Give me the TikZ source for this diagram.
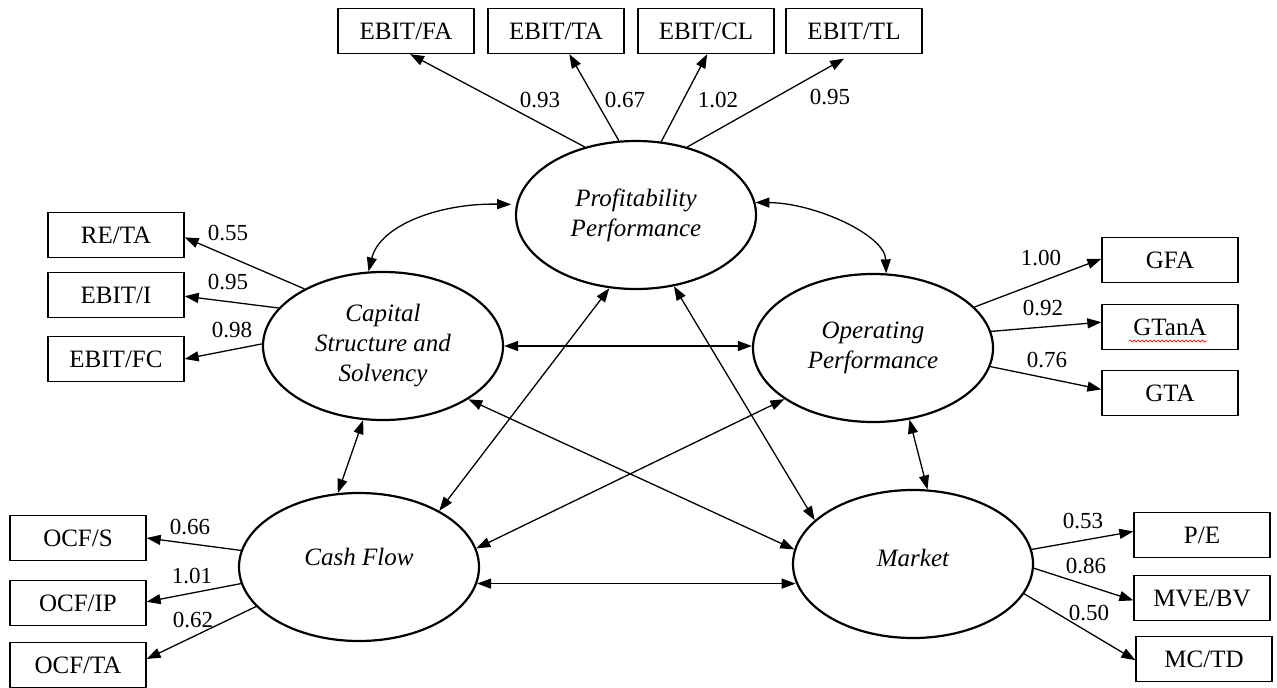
\documentclass[tikz,border=0pt]{standalone}
\usepackage{fontspec}
\setmainfont{Liberation Serif}
\usetikzlibrary{arrows.meta,shapes.geometric,decorations.pathmorphing,calc}
\begin{document}
\begin{tikzpicture}[x=1pt,y=-1pt,
  lat/.style={draw, ellipse, line width=2.2pt, minimum width=240pt, minimum height=148pt,
    inner sep=0pt, align=center, font=\fontsize{25}{30}\selectfont\itshape},
  obs/.style={draw, rectangle, line width=1.3pt, minimum width=136pt, minimum height=45pt,
    inner sep=0pt, font=\fontsize{25}{30}\selectfont},
  num/.style={font=\fontsize{23}{26}\selectfont, inner sep=0pt},
  ld/.style={line width=1.3pt, -{Triangle[length=14pt,width=10pt]}},
  cov/.style={line width=1.3pt, {Triangle[length=14pt,width=10pt]}-{Triangle[length=14pt,width=10pt]}},
]
\useasboundingbox (0,0) rectangle (1277,688);

% latent variables
\node[lat] (prof) at (636,215) {Profitability\\Performance};
\node[lat] (cap) at (383,346) {Capital\\Structure and\\Solvency};
\node[lat] (op) at (873,348) {Operating\\Performance};
\node[lat] (cash) at (359,567) {\raisebox{20pt}{Cash Flow}};
\node[lat] (mkt) at (913,564) {\raisebox{12pt}{Market}};

% observed variables
\node[obs] (fa) at (406,31) {EBIT/FA};
\node[obs] (ta) at (556,31) {EBIT/TA};
\node[obs] (cl) at (706,31) {EBIT/CL};
\node[obs] (tl) at (854,31) {EBIT/TL};
\node[obs] (reta) at (116,235) {RE/TA};
\node[obs] (ebi) at (116,295) {EBIT/I};
\node[obs] (ebfc) at (116,359) {EBIT/FC};
\node[obs] (gfa) at (1170,260) {GFA};
\node[obs] (gtana) at (1170,327) {GTanA};
\node[obs] (gta) at (1170,393) {GTA};
\node[obs] (ocfs) at (78,538) {OCF/S};
\node[obs] (ocfip) at (78,603) {OCF/IP};
\node[obs] (ocfta) at (78,665) {OCF/TA};
\node[obs] (pe) at (1202,535) {P/E};
\node[obs] (mve) at (1202,598) {MVE/BV};
\node[obs] (mctd) at (1204,659) {MC/TD};

% spell-check squiggle under GTanA
\draw[red, line width=0.7pt, decorate, decoration={snake, amplitude=1pt, segment length=4pt}]
  ($(gtana.center)+(-41,14)$) -- ($(gtana.center)+(37,14)$);

% loadings
\draw[ld] (prof.127) -- (fa.-80);
\draw[ld] (prof.103) -- (ta.-60);
\draw[ld] (prof.71) -- (cl.-87);
\draw[ld, shorten >=9pt] (prof.53) -- (tl.-95);
\draw[ld] (cap.144) -- (reta.-2);
\draw[ld] (cap.160) -- (ebi.-1);
\draw[ld] (cap.179) -- (ebfc.0);
\draw[ld] (op.22) -- (gfa.179);
\draw[ld] (op.8) -- (gtana.176);
\draw[ld] (op.-9) -- (gta.177);
\draw[ld] (cash.172) -- (ocfs.0);
\draw[ld] (cash.188) -- (ocfip.1);
\draw[ld] (cash.201) -- (ocfta.5);
\draw[ld] (mkt.7) -- (pe.177);
\draw[ld] (mkt.-2) -- (mve.182);
\draw[ld] (mkt.-15) -- (mctd.181);

% covariances
\draw[cov, shorten >=5pt] (cap.101) .. controls (380,225) and (440,203) .. (prof.175);
\draw[cov] (prof.6) .. controls (815,203) and (885,235) .. (op.80);
\draw[cov] (cap.east) -- (cap.east -| op.west);
\draw[cov] (cap.255) -- (cash.106);
\draw[cov] (prof.250) -- (cash.35);
\draw[cov] (prof.-62) -- (mkt.156);
\draw[cov] (cap.-32) -- (mkt.173);
\draw[cov] (op.210) -- (cash.9);
\draw[cov] (cash.-8) -- (cash.-8 -| mkt.189);
\draw[cov] (op.-63) -- (mkt.79);

% loading values
\node[num] (v1) at (540,100) {0.93};
\node[num] (v2) at (625,100) {0.67};
\node[num] (v3) at (718,100) {1.02};
\node[num] (v4) at (830,97) {0.95};
\node[num] (v5) at (228,233) {0.55};
\node[num] (v6) at (228,282) {0.95};
\node[num] (v7) at (232,330) {0.98};
\node[num] (v8) at (1041,258) {1.00};
\node[num] (v9) at (1043,308) {0.92};
\node[num] (v10) at (1047,360) {0.76};
\node[num] (v11) at (190,527) {0.66};
\node[num] (v12) at (192,576) {1.01};
\node[num] (v13) at (193,620) {0.62};
\node[num] (v14) at (1083,521) {0.53};
\node[num] (v15) at (1086,566) {0.86};
\node[num] (v16) at (1089,613) {0.50};
\end{tikzpicture}
\end{document}
